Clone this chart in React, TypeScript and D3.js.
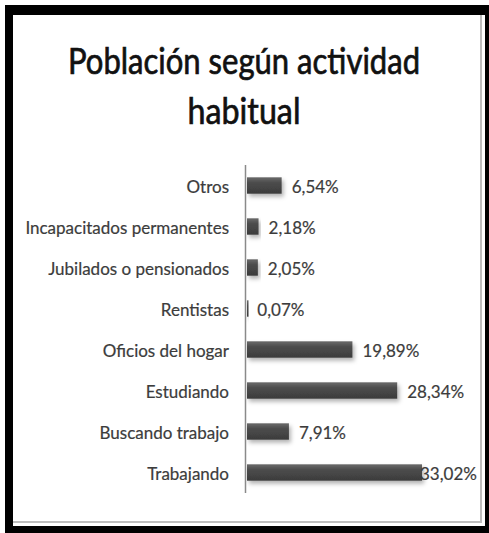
import React from 'react';
import * as d3 from 'd3';

// categories top to bottom, as shown in the chart
const categories = [
  'Otros',
  'Incapacitados permanentes',
  'Jubilados o pensionados',
  'Rentistas',
  'Oficios del hogar',
  'Estudiando',
  'Buscando trabajo',
  'Trabajando',
];
const values = [6.54, 2.18, 2.05, 0.07, 19.89, 28.34, 7.91, 33.02];
const valueLabels = ['6,54%', '2,18%', '2,05%', '0,07%', '19,89%', '28,34%', '7,91%', '33,02%'];
const titleLines = ['Población según actividad', 'habitual'];

const W = 489;
const H = 533;
const FONT = 'Lato, "Open Sans", sans-serif';

export default function App() {
  const x = d3.scaleLinear().domain([0, 35]).range([247, 432.5]);
  const y = d3.scaleBand<string>().domain(categories).range([165, 493]).paddingInner(0.6).paddingOuter(0.3);
  const maxLabelX = 420;

  return (
    <svg width={W} height={H} style={{ position: 'absolute', left: 0, top: 0 }}>
      <defs>
        <linearGradient id="barGrad" x1="0" y1="0" x2="0" y2="1">
          <stop offset="0" stopColor="#6b6b6b" />
          <stop offset="0.3" stopColor="#4e4e4e" />
          <stop offset="1" stopColor="#3b3b3b" />
        </linearGradient>
        <filter id="shadow" x="-20%" y="-40%" width="140%" height="200%">
          <feDropShadow dx="2" dy="3" stdDeviation="2" floodColor="#000" floodOpacity="0.3" />
        </filter>
      </defs>

      {/* black frame */}
      <rect x={5} y={5} width={484} height={528} fill="#000" />
      <rect x={13} y={15} width={472} height={511} fill="#fff" />
      <line x1={481} y1={15} x2={481} y2={523} stroke="#bdbdbd" strokeWidth={2} />
      <line x1={13} y1={522} x2={482} y2={522} stroke="#bdbdbd" strokeWidth={2} />

      {/* title */}
      <g fontFamily={FONT} fontSize={36} fill="#111" stroke="#111" strokeWidth={0.7} textAnchor="middle">
        <text x={244} y={74} textLength={352} lengthAdjust="spacingAndGlyphs">{titleLines[0]}</text>
        <text x={244} y={124} textLength={113} lengthAdjust="spacingAndGlyphs">{titleLines[1]}</text>
      </g>

      {/* bars */}
      {categories.map((c, i) => (
        <rect key={c} x={x(0)} y={y(c)!} width={Math.max(x(values[i]) - x(0), 1.5)}
          height={y.bandwidth()} fill="url(#barGrad)" filter="url(#shadow)" />
      ))}

      {/* axis */}
      <line x1={245.5} y1={y.range()[0]} x2={245.5} y2={y.range()[1]} stroke="#8a8a8a" strokeWidth={1.5} />

      {/* category labels */}
      {categories.map((c) => (
        <text key={c} x={229} y={y(c)! + y.bandwidth() / 2 + 1} textAnchor="end" dominantBaseline="central"
          fontFamily={FONT} fontSize={17} fill="#3c3c3c" stroke="#3c3c3c" strokeWidth={0.2}>{c}</text>
      ))}

      {/* value labels */}
      {categories.map((c, i) => (
        <text key={c} x={Math.min(x(values[i]) + 10, maxLabelX)} y={y(c)! + y.bandwidth() / 2 + 1}
          dominantBaseline="central" fontFamily={FONT} fontSize={17} fill="#3c3c3c"
          stroke="#3c3c3c" strokeWidth={0.2}>{valueLabels[i]}</text>
      ))}
    </svg>
  );
}
